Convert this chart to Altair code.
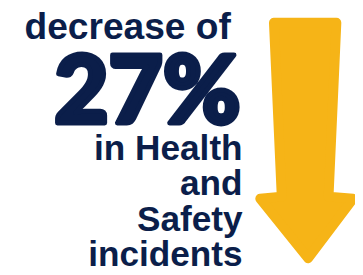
import altair as alt
import pandas as pd

# Text content
headline = "decrease of"
big_value = "27%"
tail_lines = ["in Health", "and", "Safety", "incidents"]

# Arrow outline vertices (page pixel coordinates)
arrow_x = [275, 339, 331, 356, 310, 261, 283, 275]
arrow_y = [20, 20, 198, 200, 261, 200, 198, 20]

NAVY = "#0b1e4a"
YELLOW = "#f6b417"

arrow_df = pd.DataFrame({"i": range(len(arrow_x)), "x": arrow_x, "y": arrow_y})

xs = alt.Scale(domain=[3, 358], nice=False, zero=False)
ys = alt.Scale(domain=[8, 275], nice=False, zero=False, reverse=True)

arrow = alt.Chart(arrow_df).mark_line(
    fill=YELLOW, stroke=YELLOW, strokeWidth=10, strokeJoin="round",
    strokeCap="round"
).encode(
    x=alt.X("x:Q", scale=xs, axis=None),
    y=alt.Y("y:Q", scale=ys, axis=None),
    order=alt.Order("i:Q"),
)

def text_layer(txt, ypos, size, font, weight, xpos, stroke_w=0):
    kw = {}
    if stroke_w:
        kw = dict(stroke=NAVY, strokeWidth=stroke_w, strokeJoin="round")
    return alt.Chart(pd.DataFrame({"t": [txt]})).mark_text(
        align="right", baseline="alphabetic", font=font, fontSize=size,
        fontWeight=weight, color=NAVY, **kw
    ).encode(text="t:N", x=alt.value(xpos), y=alt.value(ypos))

layers = [arrow,
          text_layer(headline, 29, 38, "Liberation Sans", "bold", 228),
          text_layer(big_value, 115, 96, "Lato", 900, 238, stroke_w=5)]
tail_y = [152, 188, 225, 261]
for t, yy in zip(tail_lines, tail_y):
    layers.append(text_layer(t, yy, 36, "Liberation Sans", "bold", 240))

chart = alt.layer(*layers).properties(
    width=355, height=267, padding=0, autosize="none"
).configure(background="white").configure_view(stroke=None)

chart.save("out.html", embed_options={"renderer": "svg", "actions": False})
